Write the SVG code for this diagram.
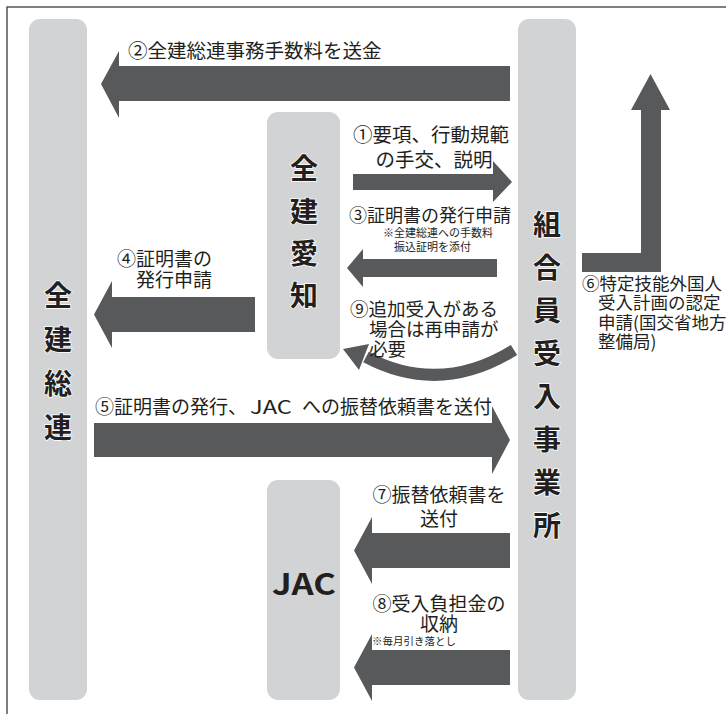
<svg xmlns="http://www.w3.org/2000/svg" width="726" height="714" viewBox="0 0 726 714">
<style>
.pillar{fill:#d1d3d4}
.arr{fill:#58595b}
.t{font-family:"Noto Sans CJK JP","Noto Sans",sans-serif;fill:#231f20;font-size:19px}
.s{font-size:11px}
.big{font-family:"Noto Sans CJK JP","Noto Sans",sans-serif;font-weight:700;font-size:28px;fill:#231f20;text-anchor:middle;stroke:#ffffff;stroke-width:1.5;paint-order:stroke}
</style>
<rect x="0" y="0" width="726" height="714" fill="#ffffff"/>
<rect x="7" y="7" width="800" height="800" fill="none" stroke="#3a3a3a" stroke-width="1.3"/>

<g id="zenkensoren">
<rect class="pillar" x="29" y="19" width="58" height="681" rx="11"/>
<text class="big" x="58"><tspan x="58" y="306">全</tspan><tspan x="58" y="350">建</tspan><tspan x="58" y="394">総</tspan><tspan x="58" y="438">連</tspan></text>
</g>

<g id="zenkenaichi">
<rect class="pillar" x="267" y="112" width="73" height="247" rx="11"/>
<text class="big" x="304"><tspan x="304" y="179">全</tspan><tspan x="304" y="222">建</tspan><tspan x="304" y="264">愛</tspan><tspan x="304" y="306">知</tspan></text>
</g>

<g id="jac">
<rect class="pillar" x="267" y="480" width="73" height="220" rx="11"/>
<text x="272" y="595" textLength="64" lengthAdjust="spacingAndGlyphs" style="font-family:'Noto Sans CJK JP','Noto Sans',sans-serif;font-weight:700;font-size:29px;fill:#231f20">JAC</text>
</g>

<g id="kumiai">
<rect class="pillar" x="518" y="19" width="58" height="681" rx="11"/>
<text class="big" x="547"><tspan x="547" y="235">組</tspan><tspan x="547" y="278">合</tspan><tspan x="547" y="321">員</tspan><tspan x="547" y="364">受</tspan><tspan x="547" y="407">入</tspan><tspan x="547" y="450">事</tspan><tspan x="547" y="493">業</tspan><tspan x="547" y="536">所</tspan></text>
</g>

<g id="connectors">
<!-- ② -->
<polygon class="arr" points="510,66 119,66 119,51 101,84 119,118 119,101 510,101"/>
<!-- ① -->
<polygon class="arr" points="353,174 493,174 493,161 512,182 493,202 493,190 353,190"/>
<!-- ③ -->
<polygon class="arr" points="497,259 363,259 363,249 347,268 363,287 363,277 497,277"/>
<!-- ④ -->
<polygon class="arr" points="255,297 112,297 112,281 94,314.5 112,348 112,332 255,332"/>
<!-- ⑤ -->
<polygon class="arr" points="94,423 492,423 492,406 510,440 492,474 492,457 94,457"/>
<!-- ⑦ -->
<polygon class="arr" points="510,533 372,533 372,517 354,550.5 372,584 372,568 510,568"/>
<!-- ⑧ -->
<polygon class="arr" points="510,650 372,650 372,634 354,667.5 372,701 372,685 510,685"/>
<!-- ⑥ -->
<polygon class="arr" points="582,253 641,253 641,110 631,110 650.5,74 670,110 661,110 661,272 582,272"/>
<!-- ⑨ -->
<path d="M514,350 Q440,396 366,357" fill="none" stroke="#58595b" stroke-width="12"/>
<polygon class="arr" points="343,349 369,344 359,370"/>
</g>

<g id="labels">
<text class="t" x="128" y="58" style="font-size:19.5px">②全建総連事務手数料を送金</text>
<text class="t" text-anchor="middle" style="font-size:19.5px"><tspan x="431" y="141.5">①要項、行動規範</tspan><tspan x="434" y="166.5">の手交、説明</tspan></text>
<text class="t" x="349" y="221.5" style="font-size:18px">③証明書の発行申請</text>
<text class="t s"><tspan x="383" y="237">※全建総連への手数料</tspan><tspan x="394" y="251">振込証明を添付</tspan></text>
<text class="t"><tspan x="117" y="265.5">④証明書の</tspan><tspan x="136" y="286.5">発行申請</tspan></text>
<text class="t" style="font-size:18.5px"><tspan x="350" y="315.5">⑨追加受入がある</tspan><tspan x="369" y="335.5">場合は再申請が</tspan><tspan x="369" y="355.5">必要</tspan></text>
<text class="t" y="414"><tspan x="95">⑤証明書の発行、</tspan><tspan x="250" textLength="42" lengthAdjust="spacingAndGlyphs">JAC</tspan><tspan x="302">への振替依頼書を送付</tspan></text>
<text class="t" style="font-size:17.5px"><tspan x="582" y="289.5">⑥特定技能外国人</tspan><tspan x="598" y="309">受入計画の認定</tspan><tspan x="598" y="328.5">申請(国交省地方</tspan><tspan x="598" y="348">整備局)</tspan></text>
<text class="t" text-anchor="middle"><tspan x="439" y="502">⑦振替依頼書を</tspan><tspan x="439" y="526">送付</tspan></text>
<text class="t" text-anchor="middle"><tspan x="439" y="611">⑧受入負担金の</tspan><tspan x="439" y="631">収納</tspan></text>
<text class="t" x="372" y="645" style="font-size:10.5px">※毎月引き落とし</text>
</g>
</svg>
